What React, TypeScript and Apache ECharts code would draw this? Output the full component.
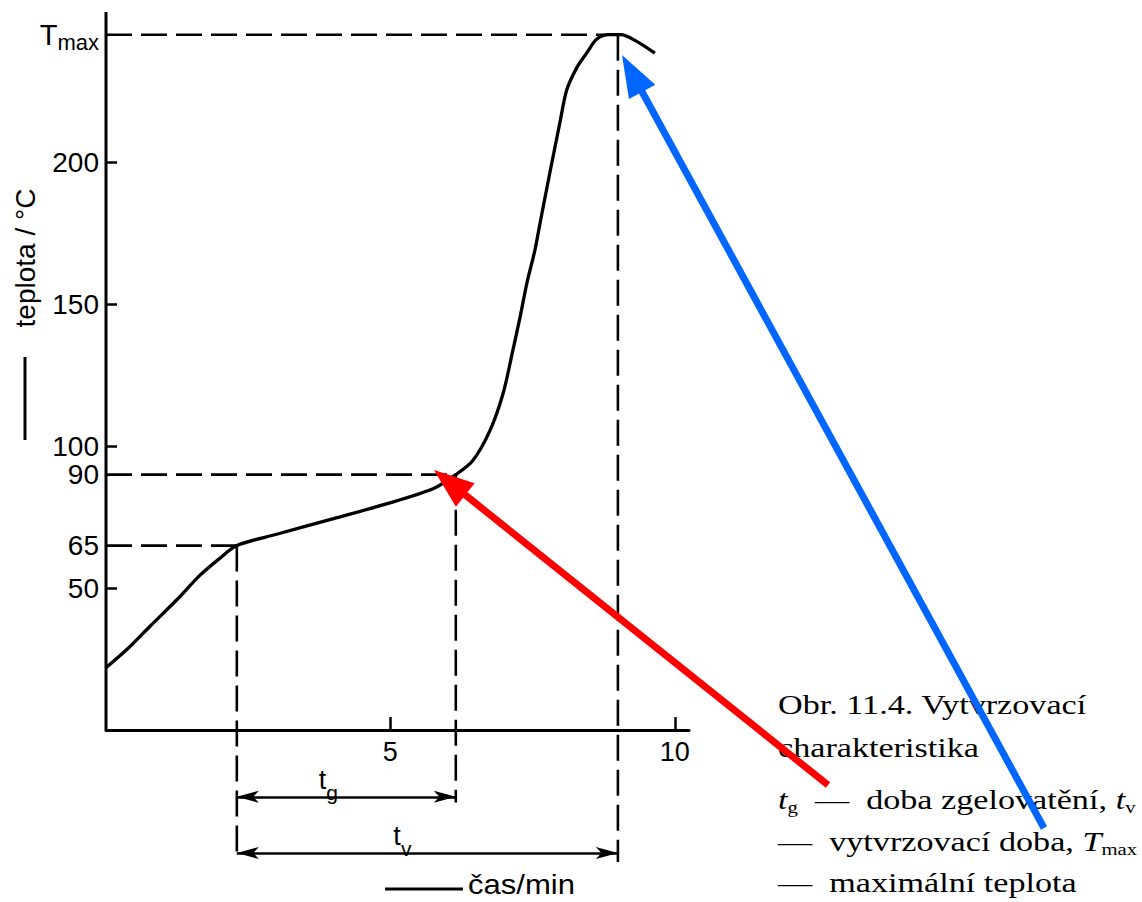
import React, { useEffect, useRef } from 'react';
import * as echarts from 'echarts';

// Curing characteristic: time (min) vs temperature (°C)
const curveTime = [0, 0.4, 0.77, 1.25, 1.65, 2.0, 2.3, 3.0, 4.0, 4.9, 5.75, 6.15, 6.45, 6.75, 6.98, 7.15, 7.28, 7.4, 7.54, 7.63, 7.8, 7.98, 8.1, 8.28, 8.45, 8.63, 8.85, 9.05, 9.3, 9.65];
const curveTemp = [22, 29, 36.5, 46, 54.5, 60.5, 65, 69, 74.5, 79.5, 85, 90, 95, 105.5, 118.5, 133.5, 145.5, 157.5, 169, 178.5, 196, 214, 225.5, 233.5, 238.5, 243.5, 245, 245, 243, 238.5];

// Reference points: gel point, end of gel stage, maximum temperature
const refTimes = [2.3, 6.15, 9.0];
const refTemps = [65, 90, 245];
const refDropTo = [-44, -25.5, -46.5];

// Dimension lines (t_g, t_v)
const dimStart = [2.3, 2.3];
const dimEnd = [6.15, 9.0];
const dimLevel = [-23.5, -43.3];
const dimSub = ['g', 'v'];
const dimShift = [36, 50];

const xTickValues = [5, 10];
const yTickMarks = [50, 100, 150, 200];
const yTickLabels = [50, 65, 90, 100, 150, 200, 245];

const X_MIN = 0;
const X_MAX = 10.25;
const Y_MIN = -50;
const Y_MAX = 253;

const captionLines = [
  'Obr. 11.4. Vytvrzovací',
  'charakteristika',
  '{i|t}{s|g}  —  doba zgelovatění, {i|t}{s|v}',
  '—  vytvrzovací doba, {i|T}{s|max}',
  '—  maximální teplota',
];
const captionY = [705, 748, 800, 842, 883];

const NARROW = '"Liberation Sans Narrow", "Liberation Sans", sans-serif';
const SERIF = '"Liberation Serif", "DejaVu Serif", serif';

const W = 1142;
const H = 902;
const GRID = { left: 106, right: 453, top: 12, bottom: 30 };

function arrow(tail: number[], tip: number[], color: string, headLen: number, headHalf: number, width: number) {
  const dx = tip[0] - tail[0];
  const dy = tip[1] - tail[1];
  const L = Math.hypot(dx, dy);
  const ux = dx / L;
  const uy = dy / L;
  const bx = tip[0] - ux * headLen;
  const by = tip[1] - uy * headLen;
  const px = -uy;
  const py = ux;
  return [
    {
      type: 'line',
      z: 100,
      shape: { x1: tail[0], y1: tail[1], x2: bx + ux * 3, y2: by + uy * 3 },
      style: { stroke: color, lineWidth: width },
    },
    {
      type: 'polygon',
      z: 100,
      shape: { points: [tip, [bx + px * headHalf, by + py * headHalf], [bx - px * headHalf, by - py * headHalf]] },
      style: { fill: color },
    },
  ];
}

export default function App() {
  const ref = useRef<HTMLDivElement>(null);

  useEffect(() => {
    document.body.style.margin = '0';
    const chart = echarts.init(ref.current!, null, { renderer: 'svg' });

    const dashed = { color: '#000', width: 2.6, type: [26, 9] as any };
    const gridH = H - GRID.top - GRID.bottom;
    const xAxisOffset = -((0 - Y_MIN) * gridH) / (Y_MAX - Y_MIN);

    const series: any[] = [
      {
        type: 'line',
        data: curveTime.map((t, i) => [t, curveTemp[i]]),
        smooth: 0.3,
        symbol: 'none',
        lineStyle: { color: '#000', width: 3.3 },
        z: 5,
      },
      {
        type: 'line',
        data: [[0, 0], [0, Y_MAX]],
        symbol: 'none',
        lineStyle: { color: '#000', width: 3 },
        z: 4,
        markLine: {
          silent: true,
          symbol: ['arrow', 'arrow'],
          symbolSize: [9, 22],
          lineStyle: { color: '#000', width: 2.5, type: 'solid' },
          label: {
            show: true,
            position: 'middle',
            distance: 2,
            color: '#000',
            rich: {
              t: { fontSize: 27, fontFamily: NARROW, color: '#000', lineHeight: 30 },
              s: { fontSize: 21, fontFamily: NARROW, color: '#000', lineHeight: 30, verticalAlign: 'bottom', padding: [0, 0, -8, 0] },
            },
          },
          data: dimStart.map((s, i) => [
            {
              coord: [s, dimLevel[i]],
              label: { formatter: '{t|t}{s|' + dimSub[i] + '}', padding: [0, dimShift[i], 0, 0] },
            },
            { coord: [dimEnd[i], dimLevel[i]] },
          ]),
        },
      },
      ...refTimes.map((t, i) => ({
        type: 'line',
        data: [[0, refTemps[i]], [t, refTemps[i]]],
        symbol: 'none',
        lineStyle: dashed,
        z: 3,
      })),
      ...refTimes.map((t, i) => ({
        type: 'line',
        data: [[t, refTemps[i]], [t, refDropTo[i]]],
        symbol: 'none',
        lineStyle: dashed,
        z: 3,
      })),
    ];

    const caption = captionLines.map((txt, i) => ({
      type: 'text',
      x: 778,
      y: captionY[i],
      scaleX: 1.22,
      z: 50,
      style: {
        text: txt,
        fill: '#000',
        fontSize: 28,
        fontFamily: SERIF,
        verticalAlign: 'middle',
        align: 'left',
        rich: {
          i: { fontSize: 28, fontFamily: SERIF, fontStyle: 'italic', lineHeight: 32 },
          s: { fontSize: 17, fontFamily: SERIF, lineHeight: 32, verticalAlign: 'bottom' },
        },
      },
    }));

    const option: any = {
      animation: false,
      backgroundColor: '#fff',
      grid: GRID,
      xAxis: {
        type: 'value',
        min: X_MIN,
        max: X_MAX,
        interval: 5,
        offset: xAxisOffset,
        splitLine: { show: false },
        axisLine: { show: true, onZero: false, lineStyle: { color: '#000', width: 3 } },
        axisTick: { show: true, inside: true, length: 13, customValues: xTickValues, lineStyle: { color: '#000', width: 2.5 } },
        axisLabel: { customValues: xTickValues, color: '#000', fontSize: 27, fontFamily: NARROW, margin: 8 },
      },
      yAxis: {
        type: 'value',
        min: Y_MIN,
        max: Y_MAX,
        splitLine: { show: false },
        axisLine: { show: false },
        axisTick: { show: true, inside: true, length: 11, customValues: yTickMarks, lineStyle: { color: '#000', width: 2.5 } },
        axisLabel: {
          customValues: yTickLabels,
          color: '#000',
          fontSize: 28,
          lineHeight: 27,
          fontFamily: NARROW,
          margin: 7,
          formatter: (v: number) => (v === 245 ? '{t|T}{s|max}' : String(v)),
          rich: {
            t: { fontSize: 29, fontFamily: NARROW, color: '#000', lineHeight: 29 },
            s: { fontSize: 22, fontFamily: NARROW, color: '#000', lineHeight: 29, verticalAlign: 'bottom', padding: [0, 0, -4, 0] },
          },
        },
      },
      series,
      graphic: [
        {
          type: 'text',
          x: 25,
          y: 258,
          rotation: Math.PI / 2,
          style: { text: 'teplota / °C', fill: '#000', fontSize: 28, fontFamily: NARROW, align: 'center', verticalAlign: 'middle' },
        },
        { type: 'line', shape: { x1: 25, y1: 357, x2: 25, y2: 440 }, style: { stroke: '#000', lineWidth: 3 } },
        { type: 'line', shape: { x1: 385, y1: 889, x2: 463, y2: 889 }, style: { stroke: '#000', lineWidth: 3 } },
        {
          type: 'text',
          x: 468,
          y: 885,
          scaleX: 1.15,
          style: { text: 'čas/min', fill: '#000', fontSize: 27, fontFamily: NARROW, align: 'left', verticalAlign: 'middle' },
        },
        ...caption,
        ...arrow([828, 785], [434, 470], '#ff0000', 40, 15, 7),
        ...arrow([1044, 828], [622, 55], '#0066ff', 42, 15, 7),
      ],
    };

    chart.setOption(option);
    return () => chart.dispose();
  }, []);

  return <div ref={ref} style={{ width: W, height: H }} />;
}
